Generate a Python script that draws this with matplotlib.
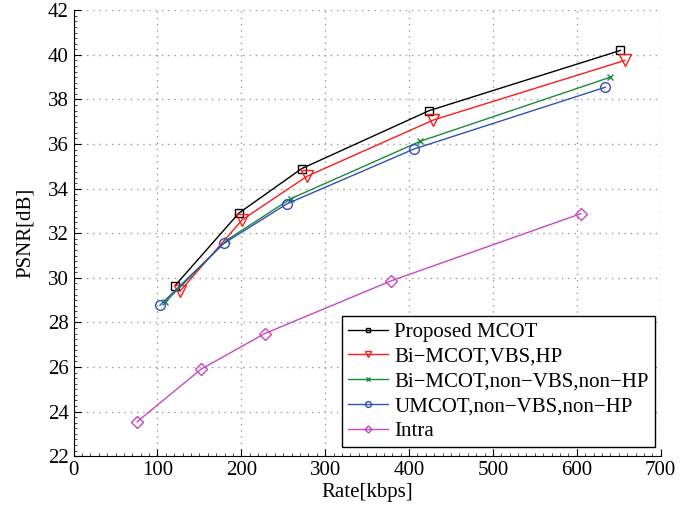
import numpy as np
import matplotlib.pyplot as plt
from matplotlib.ticker import MultipleLocator

plt.rcParams['font.family'] = ['Liberation Serif', 'DejaVu Serif']
plt.rcParams['font.size'] = 15

# rate [kbps] and PSNR [dB]
rate_prop = [121, 197, 272, 424, 652]
psnr_prop = [29.65, 32.9, 34.9, 37.5, 40.2]

rate_bivbs = [127, 201, 278, 429, 657]
psnr_bivbs = [29.4, 32.6, 34.55, 37.08, 39.75]

rate_binon = [109, 183, 259, 413, 640]
psnr_binon = [28.9, 31.7, 33.55, 36.12, 39.0]

rate_umcot = [103, 179, 255, 406, 634]
psnr_umcot = [28.77, 31.54, 33.33, 35.78, 38.55]

rate_intra = [76, 152, 228, 379, 605]
psnr_intra = [23.55, 25.9, 27.5, 29.87, 32.88]

labels = ['Proposed MCOT', 'Bi\u2212MCOT,VBS,HP', 'Bi\u2212MCOT,non\u2212VBS,non\u2212HP',
          'UMCOT,non\u2212VBS,non\u2212HP', 'Intra']

fig = plt.figure(figsize=(6.94, 5.16), dpi=100)
ax = fig.add_axes([0.106, 0.116, 0.846, 0.864])

ax.plot(rate_prop, psnr_prop, color='black', marker='s', ms=6, mfc='none', lw=1, label=labels[0])
ax.plot(rate_bivbs, psnr_bivbs, color='#ff1a1a', marker='v', ms=8, mfc='none', lw=1, label=labels[1])
ax.plot(rate_binon, psnr_binon, color='#1a8a3a', marker='x', ms=5, mfc='none', lw=1, label=labels[2])
ax.plot(rate_umcot, psnr_umcot, color='#3050b8', marker='o', ms=7, mfc='none', lw=1, label=labels[3])
ax.plot(rate_intra, psnr_intra, color='#c848c0', marker='D', ms=6, mfc='none', lw=1, label=labels[4])

ax.set_xlim(0, 700)
ax.set_ylim(22, 42)
ax.set_xticks(np.arange(0, 701, 100))
ax.set_yticks(np.arange(22, 43, 2))
ax.xaxis.set_minor_locator(MultipleLocator(10))
ax.yaxis.set_minor_locator(MultipleLocator(0.25))
ax.tick_params(which='both', direction='in', top=False, right=False)
ax.tick_params(which='major', length=5)
ax.tick_params(which='minor', length=2, width=0.5)
ax.grid(True, which='major', linestyle=(0, (1, 3.5)), color='#999999', linewidth=1.0)
ax.spines['top'].set_visible(False)
ax.spines['right'].set_visible(False)

ax.set_xlabel('Rate[kbps]', labelpad=2)
ax.set_ylabel('PSNR[dB]', labelpad=9)

leg = ax.legend(loc='lower right', bbox_to_anchor=(0.99, 0.02), fancybox=False,
                edgecolor='black', framealpha=1, markerscale=0.6, handlelength=1.9,
                handletextpad=0.3, labelspacing=0.25, borderpad=0.3, borderaxespad=0)
leg.get_frame().set_linewidth(1.0)

fig.savefig('out.png', dpi=100)
